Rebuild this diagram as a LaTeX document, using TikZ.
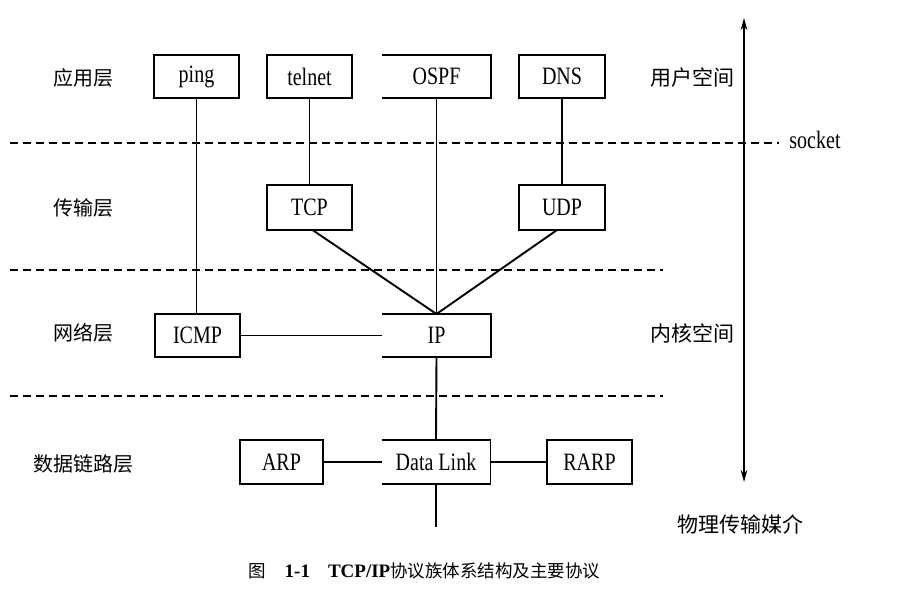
\documentclass[tikz,border=0pt]{standalone}
\usepackage{fontspec}
\setmainfont{Liberation Serif}
\newfontfamily\condserif[FakeStretch=0.8]{Liberation Serif}
\newfontfamily\cjk{Noto Sans CJK SC}
\usetikzlibrary{arrows.meta}
\begin{document}
\begin{tikzpicture}[x=1pt,y=-1pt,
  boxtext/.style={font=\condserif\fontsize{25}{25}\selectfont, inner sep=0pt, outer sep=0pt},
  fullbox/.style={boxtext, draw, line width=1.2pt, minimum height=43pt},
  openbox/.style={boxtext, minimum height=43pt},
  boxline/.style={line width=1.2pt},
  topline/.style={line width=2pt},
  thin/.style={line width=1pt},
  mid/.style={line width=1.5pt},
  thick/.style={line width=1.9pt},
  heavy/.style={line width=2.3pt},
  sep/.style={line width=1.1pt, dash pattern=on 8pt off 5pt},
  layer/.style={font=\cjk\fontsize{20}{20}\selectfont, inner sep=0pt},
  space/.style={font=\cjk\fontsize{21}{21}\selectfont, inner sep=0pt},
  dblarrow/.style={line width=2.3pt, >={Stealth[length=12pt,width=6.5pt]}, <->}
]
\useasboundingbox (0,0) rectangle (899,589);
\fill[white] (0,0) rectangle (899,589);

% application layer
\node[fullbox, minimum width=85pt] (ping) at (196.5,76.5) {ping};
\node[fullbox, minimum width=85pt] (telnet) at (309.5,76.5) {telnet};
\node[openbox, minimum width=109pt] (ospf) at (436.5,76.5) {OSPF};
\node[fullbox, minimum width=86pt] (dns) at (562,76.5) {DNS};

% transport layer
\node[fullbox, minimum width=85pt, minimum height=45pt] (tcp) at (309.5,207.5) {TCP};
\node[fullbox, minimum width=86pt, minimum height=45pt] (udp) at (562,207.5) {UDP};

% network layer
\node[fullbox, minimum width=85pt] (icmp) at (197.5,335.5) {ICMP};
\node[openbox, minimum width=109pt] (ip) at (436.5,335.5) {IP};

% data link layer
\node[fullbox, minimum width=83pt, minimum height=44pt] (arp) at (281.5,462) {ARP};
\node[openbox, minimum width=109pt, minimum height=44pt] (dl) at (436,462) {Data Link};
\node[fullbox, minimum width=85pt, minimum height=44pt] (rarp) at (589.5,462) {RARP};

% open boxes (no left side)
\draw[boxline] (ospf.north west) -- (ospf.north east) -- (ospf.south east) -- (ospf.south west);
\draw[boxline] (ip.north west) -- (ip.north east) -- (ip.south east) -- (ip.south west);
\draw[boxline] (dl.north east) -- (dl.south east) -- (dl.south west);
\draw[topline] (ospf.north west) -- (ospf.north east);
\draw[topline] (dl.north west) -- (dl.north east);
\draw[topline] (arp.north west) -- (arp.north east);
\draw[topline] (rarp.north west) -- (rarp.north east);

% connectors
\coordinate (base) at (436,527);
\draw[thin] (ping.south) -- (ping.south |- icmp.north);
\draw[mid] (telnet.south) -- (tcp.north);
\draw[thick] (ospf.south) -- (ip.north);
\draw[mid] (dns.south) -- (udp.north);
\draw[thick] ([xshift=3pt]tcp.south) -- (ip.north);
\draw[thick] ([xshift=-5pt]udp.south) -- (ip.north);
\draw[thin] (icmp.east) -- (ip.west);
\draw[thick] (ip.south) -- (dl.north);
\draw[thick] (dl.south) -- (base);
\draw[heavy] (arp.east) -- (dl.west);
\draw[heavy] (dl.east) -- (rarp.west);

% separators
\coordinate (s1a) at (10,143); \coordinate (s1b) at (779,143);
\coordinate (s2a) at (10,270); \coordinate (s2b) at (663,270);
\coordinate (s3a) at (10,396); \coordinate (s3b) at (663,396);
\draw[sep] (s1a) -- (s1b);
\draw[sep] (s2a) -- (s2b);
\draw[sep] (s3a) -- (s3b);

% user/kernel arrow
\coordinate (atop) at (744,18);
\coordinate (abot) at (744,482);
\draw[dblarrow] (atop) -- (abot);

% layer labels
\node[layer] (l1) at (83,78) {应用层};
\node[layer] (l2) at (83,208) {传输层};
\node[layer] (l3) at (83,333) {网络层};
\node[layer] (l4) at (83,464) {数据链路层};

% space labels
\node[space] (us) at (692,78) {用户空间};
\node[space] (ks) at (692,333) {内核空间};
\node[space] (pm) at (740,524) {物理传输媒介};
\node[font=\condserif\fontsize{25}{25}\selectfont, inner sep=0pt] (sock) at (815,140) {socket};

% caption
\node[anchor=west, inner sep=0pt] (cap) at (248,571)
  {{\cjk\fontsize{17.5}{17.5}\selectfont 图}\hspace{19pt}{\bfseries\fontsize{19}{19}\selectfont 1-1}\hspace{18pt}{\bfseries\fontsize{19}{19}\selectfont TCP/IP}{\cjk\fontsize{17.5}{17.5}\selectfont 协议族体系结构及主要协议}};
\end{tikzpicture}
\end{document}
